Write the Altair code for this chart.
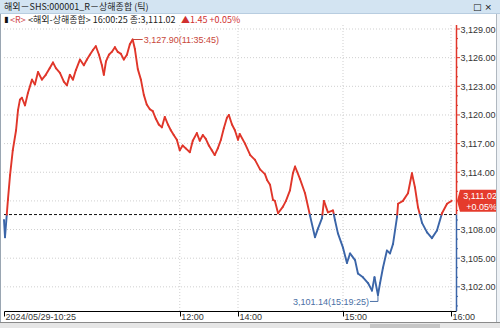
import altair as alt
import pandas as pd

# ---------------- data ----------------
times = ["10:25", "10:30", "10:31:30", "10:32:36", "10:34", "10:35:42", "10:36:42", "10:37:42", "10:38:42",
         "10:40:18", "10:41:48", "10:43:54", "10:45:24", "10:47", "10:49", "10:51", "10:53", "10:54:42",
         "10:56:12", "10:58:18", "11:00:18", "11:01:54", "11:03:24", "11:05", "11:06:30", "11:08:36",
         "11:10:36", "11:12:12", "11:13:42", "11:15:18", "11:16:48", "11:18:24", "11:19:54", "11:20:54",
         "11:22", "11:23:30", "11:25", "11:26:36", "11:28:06", "11:29:42", "11:31:12", "11:32:48",
         "11:34:18", "11:35:45", "11:36:54", "11:38:24", "11:40", "11:41:30", "11:43", "11:44:36",
         "11:46:06", "11:47:42", "11:49:12", "11:50:48", "11:52:18", "11:53:54", "11:55:24", "11:56:54",
         "11:58:30", "12:00", "12:01:30", "12:03:06", "12:05:12", "12:06:42", "12:08:48", "12:10:18",
         "12:11:54", "12:13:24", "12:15", "12:16:30", "12:18", "12:19:36", "12:21:12", "12:22:42",
         "12:24:18", "12:25:18", "12:26:54", "12:28:24", "12:30",
         "14:01", "14:04", "14:07", "14:09:42", "14:12:36", "14:15:24", "14:16:36", "14:18:18", "14:20",
         "14:21:06", "14:22:54", "14:25:42", "14:27:24", "14:29:42", "14:31:24", "14:32:36", "14:35:24",
         "14:38:18", "14:41:06", "14:44", "14:45:42", "14:48", "14:49:06", "14:51:24", "14:54:18",
         "14:55:24", "14:57:06", "15:00", "15:02:12", "15:03:54", "15:06:42", "15:08:18", "15:11:06",
         "15:13:54", "15:16:06", "15:17:30", "15:19:25", "15:20:36", "15:22:12", "15:24:24", "15:26:06",
         "15:27:48", "15:30", "15:30:36", "15:33:18", "15:36:06", "15:38:18", "15:40", "15:41:42",
         "15:43:54", "15:46:42", "15:49:24", "15:52:12", "15:55", "15:57:48", "16:00:25"]
values = [3109.0, 3107.2, 3111.1, 3113.7, 3116.3, 3118.4, 3120.5, 3121.6, 3121.8,
          3121.0, 3122.3, 3123.7, 3123.2, 3124.5, 3123.7, 3124.2, 3124.9, 3125.5,
          3124.9, 3124.4, 3123.5, 3123.1, 3124.2, 3123.7, 3124.7, 3125.8,
          3125.2, 3125.8, 3126.3, 3126.8, 3127.2, 3126.3, 3125.2, 3124.2,
          3125.6, 3126.3, 3126.6, 3127.1, 3126.6, 3126.4, 3125.8, 3126.3,
          3127.4, 3127.90, 3126.9, 3124.8, 3123.7, 3122.1, 3121.1, 3120.6,
          3120.4, 3119.6, 3119.0, 3118.7, 3119.8, 3119.0, 3118.4, 3117.9,
          3117.4, 3116.3, 3116.8, 3116.5, 3116.1, 3117.3, 3118.1, 3117.3,
          3117.9, 3117.5, 3116.8, 3116.3, 3115.8, 3116.5, 3117.4, 3118.6,
          3119.7, 3120.0, 3119.0, 3118.4, 3117.4,
          3118.0, 3117.0, 3115.8, 3115.3, 3114.3, 3113.8, 3113.2, 3112.7, 3111.1,
          3111.0, 3109.7, 3110.4, 3111.0, 3112.1, 3113.9, 3114.6, 3113.3,
          3111.8, 3109.5, 3107.2, 3108.1, 3109.2, 3111.0, 3109.8, 3110.0,
          3109.0, 3107.6, 3106.1, 3104.5, 3105.5, 3104.8, 3103.4, 3103.0,
          3102.4, 3101.6, 3103.0, 3101.14, 3102.4, 3104.0, 3105.8, 3105.5,
          3106.5, 3109.3, 3110.7, 3111.0, 3111.8, 3113.9, 3112.4, 3110.3,
          3108.7, 3107.7, 3107.1, 3107.9, 3109.7, 3110.7, 3111.02]

prev_close = 3109.57
y_ticks = [3102, 3105, 3108, 3114, 3117, 3120, 3123, 3126, 3129]
x_tick_labels = ["2024/05/29-10:25", "12:00", "14:00", "15:00", "16:00"]
x_tick_times = ["10:25", "12:00", "14:00", "15:00", "16:00"]
grid_times = ["12:00", "14:00", "15:00", "16:00"]

title_text = "해외－SHS:000001_R－상해종합 (틱)"
info_time = "16:00:25"
change = 1.45
change_pct = 0.05

RED = "#e0362a"
BLUE = "#3b65a8"
W, H = 452, 286


def to_min(t):
    p = [int(s) for s in t.split(":")]
    while len(p) < 3:
        p.append(0)
    return p[0] * 60 + p[1] + p[2] / 60.0


tm = [to_min(t) for t in times]

# segments coloured by side of the previous close (split where they cross it)
segs = []
for i in range(len(tm) - 1):
    t1, v1, t2, v2 = tm[i], values[i], tm[i + 1], values[i + 1]
    if (v1 - prev_close) * (v2 - prev_close) < 0:
        tc = t1 + (prev_close - v1) / (v2 - v1) * (t2 - t1)
        segs.append((t1, v1, tc, prev_close, "up" if v1 > prev_close else "down"))
        segs.append((tc, prev_close, t2, v2, "up" if v2 > prev_close else "down"))
    else:
        side = "up" if (v1 + v2) / 2 >= prev_close else "down"
        segs.append((t1, v1, t2, v2, side))
seg_df = pd.DataFrame(segs, columns=["t", "v", "t2", "v2", "side"])

pts = pd.DataFrame({"t": tm, "v": values})
imax = pts["v"].idxmax()
imin = pts["v"].idxmin()
max_df = pd.DataFrame({"t": [tm[imax]], "v": [values[imax]],
                       "label": [f"{values[imax]:,.2f}({times[imax]})"]})
min_df = pd.DataFrame({"t": [tm[imin]], "v": [values[imin]],
                       "label": [f"{values[imin]:,.2f}({times[imin]})"]})
last_df = pd.DataFrame({"v": [values[-1]], "p": [f"{values[-1]:,.2f}"],
                        "c": [f"+{change_pct:.2f}%"]})

x_scale = alt.Scale(domain=[625, 630, 750, 840, 900, 960, 962.8],
                    range=[0, 1, 234, 234, 339, 447, W], nice=False, zero=False)
y_scale = alt.Scale(domain=[3099.47, 3129.42], nice=False, zero=False)

label_expr = " : ".join(
    [f"datum.value == {to_min(t)} ? '{l}'" for t, l in zip(x_tick_times, x_tick_labels)]) + " : ''"

x_axis = alt.Axis(values=[to_min(t) for t in x_tick_times], labelExpr=label_expr, grid=False,
                  domainColor="#000", tickColor="#000", tickSize=5, labelAlign="left",
                  labelBaseline="top", labelPadding=-4, labelOffset=1, labelFontSize=9,
                  labelFont="Liberation Sans", labelColor="#333", title=None, labelFlush=False,
                  labelOverlap=False)
y_axis = alt.Axis(orient="right", values=y_ticks, format=",.2f", grid=False, domain=False,
                  ticks=False, labelPadding=4, labelFontSize=9, labelFont="Liberation Sans",
                  labelColor="#333", title=None, labelAlign="left", labelOverlap=False,
                  labelFlush=False, labelBaseline="middle")


def X(f):
    return alt.X(f, scale=x_scale, axis=x_axis)


def Y(f):
    return alt.Y(f, scale=y_scale, axis=y_axis)


# gridlines
hgrid = alt.Chart(pd.DataFrame({"v": y_ticks + [3111]})).mark_rule(
    color="#cfcfcf", strokeDash=[1, 2], strokeWidth=1).encode(
    y=Y("v:Q"), x=alt.value(0), x2=alt.value(W))
vgrid = alt.Chart(pd.DataFrame({"t": [to_min(t) for t in grid_times]})).mark_rule(
    color="#cfcfcf", strokeDash=[1, 2], strokeWidth=1).encode(
    x=X("t:Q"), y=alt.value(0), y2=alt.value(H))

baseline = alt.Chart(pd.DataFrame({"v": [prev_close]})).mark_rule(
    color="#111", strokeDash=[3, 2], strokeWidth=1).encode(
    y=Y("v:Q"), x=alt.value(0), x2=alt.value(W))

side_color = alt.Color("side:N", scale=alt.Scale(domain=["up", "down"], range=[RED, BLUE]), legend=None)

line = alt.Chart(seg_df).mark_rule(strokeWidth=1.9, strokeCap="round").encode(
    x=X("t:Q"), y=Y("v:Q"), x2="t2:Q", y2="v2:Q", color=side_color)

# right axis line in two colours, and ticks
ax_df = pd.DataFrame({"a": [prev_close, y_scale.domain[0]], "b": [y_scale.domain[1], prev_close],
                      "side": ["up", "down"]})
axis_line = alt.Chart(ax_df).mark_rule(strokeWidth=1.5).encode(
    x=alt.value(W + 0.5), y=Y("a:Q"), y2="b:Q", color=side_color)
minor = [v for v in range(3100, 3130)]
tick_df = pd.DataFrame({"v": minor, "len": [4 if v in y_ticks else 2 for v in minor],
                        "side": ["up" if v > prev_close else "down" for v in minor]})
ticks_major = alt.Chart(tick_df[tick_df["len"] == 4]).mark_rule(strokeWidth=1).encode(
    y=Y("v:Q"), x=alt.value(W), x2=alt.value(W + 4), color=side_color)
ticks_minor = alt.Chart(tick_df[tick_df["len"] == 2]).mark_rule(strokeWidth=1).encode(
    y=Y("v:Q"), x=alt.value(W), x2=alt.value(W + 2), color=side_color)

# current price badge
badge_path = "M-1,0 L-0.86,-0.52 L1,-0.52 L1,0.52 L-0.86,0.52 Z"
badge = alt.Chart(last_df).mark_point(shape=badge_path, filled=True, size=42 * 42, color="#e53b2c",
                                      opacity=1, strokeWidth=0).encode(
    x=alt.value(W + 22), y=Y("v:Q"))
badge_p = alt.Chart(last_df).mark_text(align="right", baseline="middle", dy=-5, fontSize=9,
                                       font="Liberation Sans", color="white").encode(
    x=alt.value(W + 41), y=Y("v:Q"), text="p:N")
badge_c = alt.Chart(last_df).mark_text(align="right", baseline="middle", dy=6, fontSize=9,
                                       font="Liberation Sans", color="white").encode(
    x=alt.value(W + 41), y=Y("v:Q"), text="c:N")

# max / min annotations
max_lead = alt.Chart(max_df).mark_point(shape="M0,0 L1,0", filled=False, size=400, color="#c8463a",
                                        strokeWidth=1, opacity=1).encode(x=X("t:Q"), y=Y("v:Q"))
max_text = alt.Chart(max_df).mark_text(align="left", baseline="middle", dx=11, fontSize=9,
                                       font="Liberation Sans", color="#c8463a").encode(
    x=X("t:Q"), y=Y("v:Q"), text="label:N")
min_lead = alt.Chart(min_df).mark_point(shape="M0,0 L0,0.8 L-1,0.8", filled=False, size=256,
                                        color="#4a6fa5", strokeWidth=1, opacity=1).encode(
    x=X("t:Q"), y=Y("v:Q"))
min_text = alt.Chart(min_df).mark_text(align="right", baseline="middle", dx=-9, dy=7, fontSize=9,
                                       font="Liberation Sans", color="#4a6fa5").encode(
    x=X("t:Q"), y=Y("v:Q"), text="label:N")

# window decorations (title bar, info line, frame, scrollbar)
deco_df = pd.DataFrame({"k": [0]})


def rect(x1, x2, y1, y2, color):
    return alt.Chart(deco_df).mark_rect(color=color).encode(
        x=alt.value(x1), x2=alt.value(x2), y=alt.value(y1), y2=alt.value(y2))


def text(x, y, s, color="#222", size=9, font="Noto Sans CJK KR", align="left"):
    return alt.Chart(deco_df).mark_text(align=align, baseline="middle", fontSize=size, font=font,
                                        color=color, text=s).encode(x=alt.value(x), y=alt.value(y))


title_bar = rect(-4, 496, -25, -12, "#d3e4f2")
title_line = rect(-4, 496, -12, -11, "#b8cde0")
bottom_line = rect(-4, 496, 297, 298, "#8a8a8a")
scroll_bg = rect(-4, 496, 298, 303, "#e6e6e6")
scroll_thumb = rect(366, 436, 299, 303, "#c6c6c6")
right_frame = rect(492, 496, -11, 297, "#eef2f6")
right_frame_line = rect(492, 493, -11, 297, "#b0b8c0")
left_frame = rect(-4, -3, -11, 297, "#9aa6b2")

t_title = text(0, -18, title_text, size=9)
t_icons = text(488, -18, "□ ×", color="#111", size=9, font="DejaVu Sans", align="right")
t_mark = text(0, -5, "▮", color="#111", size=8, font="DejaVu Sans")
t_r = text(6, -5, "<R>", color="#d04848", size=9)
t_info = text(24, -5, f"<해외-상해종합> {info_time} 종:{values[-1]:,.2f}", color="#222", size=9)
t_chg = text(177, -5, f"▲{change:.2f} +{change_pct:.2f}%", color="#d03030", size=9)

chart = alt.layer(
    hgrid, vgrid, baseline, line, axis_line, ticks_major, ticks_minor,
    max_lead, max_text, min_lead, min_text,
    badge, badge_p, badge_c,
    title_bar, title_line, t_title, t_icons, t_mark, t_r, t_info, t_chg,
    bottom_line, scroll_bg, scroll_thumb, right_frame, right_frame_line, left_frame,
).properties(
    width=W, height=H,
    padding={"left": 4, "top": 25, "right": 44, "bottom": 17},
    autosize=alt.AutoSizeParams(type="none"),
    background="white",
).configure_view(stroke=None, clip=False).configure_axis(labelOverlap=False)

chart.save("out.html", embed_options={"renderer": "svg", "actions": False})
